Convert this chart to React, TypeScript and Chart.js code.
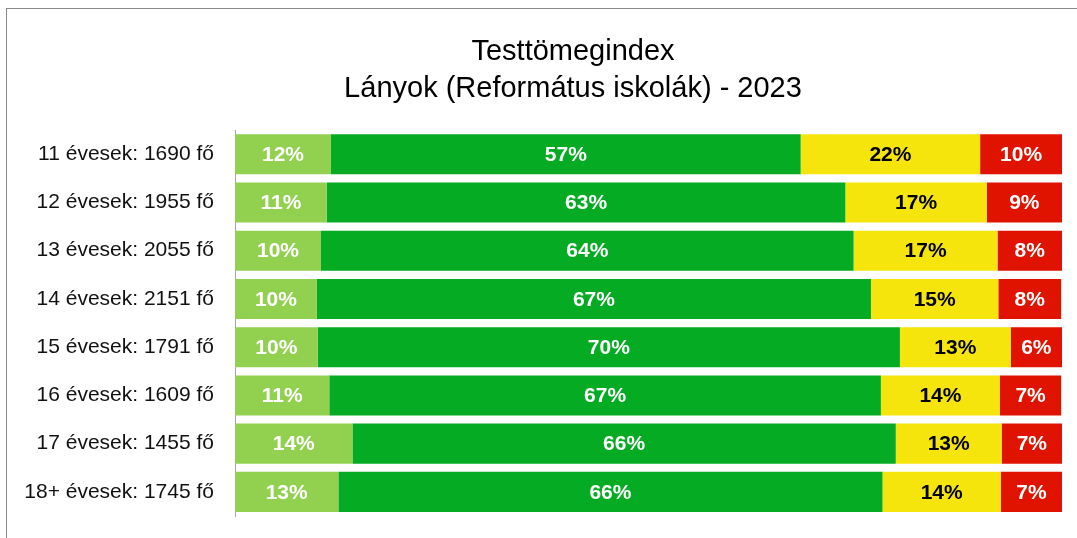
import React, { useEffect, useRef } from "react";
import { Chart, registerables } from "chart.js";

Chart.register(...registerables);

const categories = [
  "11 évesek: 1690 fő",
  "12 évesek: 1955 fő",
  "13 évesek: 2055 fő",
  "14 évesek: 2151 fő",
  "15 évesek: 1791 fő",
  "16 évesek: 1609 fő",
  "17 évesek: 1455 fő",
  "18+ évesek: 1745 fő",
];

const sovany = [11.6, 11.1, 10.4, 9.9, 10.0, 11.4, 14.2, 12.5];
const normal = [56.8, 62.7, 64.4, 67.0, 70.4, 66.7, 65.7, 65.8];
const tulsulyos = [21.7, 17.1, 17.4, 15.4, 13.4, 14.4, 12.8, 14.3];
const elhizott = [9.9, 9.1, 7.8, 7.6, 6.2, 7.4, 7.3, 7.4];

const titleLines = ["Testtömegindex", "Lányok (Református iskolák) - 2023"];

const FONT = "'Liberation Sans', Arial, sans-serif";

const labelPlugin = {
  id: "segLabels",
  afterDatasetsDraw(chart: any) {
    const ctx = chart.ctx;
    ctx.save();
    ctx.font = `bold 21px ${FONT}`;
    ctx.textAlign = "center";
    ctx.textBaseline = "middle";
    chart.data.datasets.forEach((ds: any, di: number) => {
      const meta = chart.getDatasetMeta(di);
      meta.data.forEach((el: any, i: number) => {
        const { x, base, y } = el.getProps(["x", "base", "y"], true);
        const v = ds.data[i];
        ctx.fillStyle = ds.labelColor;
        ctx.fillText(Math.round(v) + "%", (x + base) / 2, y + 1);
      });
    });
    ctx.restore();
  },
};

export default function App() {
  const ref = useRef<HTMLCanvasElement | null>(null);
  useEffect(() => {
    if (!ref.current) return;
    const chart = new Chart(ref.current, {
      type: "bar",
      data: {
        labels: categories,
        datasets: [
          { label: "Sovány", data: sovany, backgroundColor: "#92D050", labelColor: "#ffffff" } as any,
          { label: "Normál", data: normal, backgroundColor: "#05AB22", labelColor: "#ffffff" } as any,
          { label: "Túlsúlyos", data: tulsulyos, backgroundColor: "#F5E50C", labelColor: "#000000" } as any,
          { label: "Elhízott", data: elhizott, backgroundColor: "#DF1300", labelColor: "#ffffff" } as any,
        ],
      },
      options: {
        indexAxis: "y",
        responsive: false,
        animation: false,
        devicePixelRatio: 1,
        datasets: {
          bar: { categoryPercentage: 1, barPercentage: 0.83, borderWidth: 0 },
        },
        layout: { padding: { left: 0, right: 0, top: 0, bottom: 53 } },
        plugins: {
          legend: { display: false },
          tooltip: { enabled: false },
          title: {
            display: true,
            text: titleLines,
            color: "#000000",
            font: { family: FONT, size: 29, weight: "normal", lineHeight: 1.26 },
            padding: { top: 25, bottom: 23 },
          },
        },
        scales: {
          x: { stacked: true, min: 0, max: 100, display: false },
          y: {
            stacked: true,
            grid: { display: false, drawTicks: false },
            border: { display: true, color: "#a6a6a6", width: 1 },
            ticks: {
              color: "#111111",
              font: { family: FONT, size: 21 },
              padding: 21,
            },
            afterFit: (scale: any) => {
              scale.width = 228;
            },
          },
          yRight: {
            type: "category",
            position: "right",
            display: true,
            grid: { display: false, drawTicks: false },
            border: { display: false },
            ticks: { display: false },
            afterFit: (scale: any) => {
              scale.width = 77;
            },
          },
        },
      },
      plugins: [labelPlugin],
    });
    return () => chart.destroy();
  }, []);

  return (
    <div style={{ position: "fixed", left: 0, top: 0, width: 1077, height: 538, overflow: "hidden", background: "#fff" }}>
      <div
        style={{
          position: "absolute",
          left: 6,
          top: 8,
          width: 1132,
          height: 560,
          border: "1px solid #8a8a8a",
          background: "#fff",
        }}
      >
        <canvas ref={ref} width={1132} height={560} style={{ display: "block" }} />
      </div>
    </div>
  );
}
